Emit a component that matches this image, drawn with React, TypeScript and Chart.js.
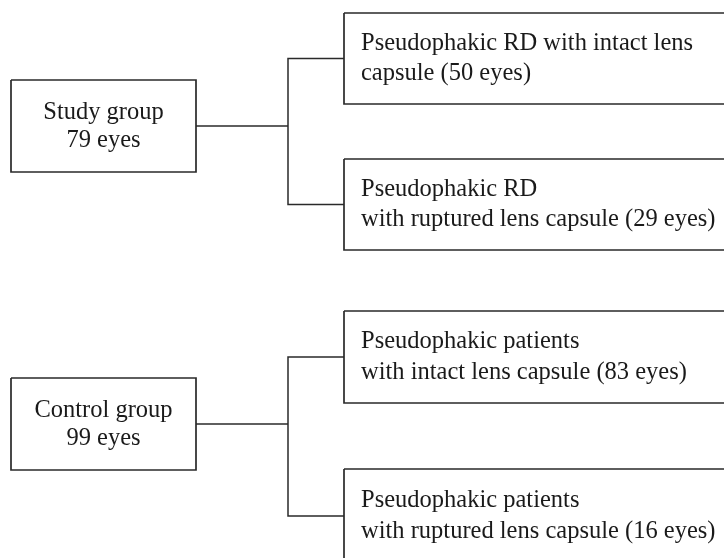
import React, { useEffect, useRef } from "react";
import { Chart, registerables } from "chart.js";

Chart.register(...registerables);

// Node labels (one entry per box, one string per line)
const nodeLabels: string[][] = [
  ["Study group", "79 eyes"],
  ["Pseudophakic RD with intact lens", "capsule (50 eyes)"],
  ["Pseudophakic RD", "with ruptured lens capsule (29 eyes)"],
  ["Control group", "99 eyes"],
  ["Pseudophakic patients", "with intact lens capsule (83 eyes)"],
  ["Pseudophakic patients", "with ruptured lens capsule (16 eyes)"],
];
// Box extents in diagram units (x: 0..724, y: 0..558 top-down)
const nodeLeft = [11, 344, 344, 11, 344, 344];
const nodeRight = [196, 745, 745, 196, 745, 745];
const nodeTop = [80, 13, 159, 378, 311, 469];
const nodeBottom = [172, 104, 250, 470, 403, 563];
// Tree: parent node index -> child node indices, with the trunk x position
const groupParent = [0, 3];
const groupChildren = [[1, 2], [4, 5]];
const groupTrunkX = [288, 288];

const X_MAX = 724;
const Y_MAX = 558;

export default function App() {
  const ref = useRef<HTMLCanvasElement | null>(null);

  useEffect(() => {
    document.body.style.margin = "0";
    const canvas = ref.current;
    if (!canvas) return;

    const lineColor = "#2a2a2a";
    const datasets: any[] = [];

    // Boxes
    nodeLabels.forEach((_, i) => {
      const l = nodeLeft[i], r = nodeRight[i], t = nodeTop[i], b = nodeBottom[i];
      datasets.push({
        data: [
          { x: l, y: t },
          { x: r, y: t },
          { x: r, y: b },
          { x: l, y: b },
          { x: l, y: t },
        ],
        showLine: true,
        borderColor: lineColor,
        borderWidth: 1.7,
        pointRadius: 0,
        fill: false,
        tension: 0,
        borderJoinStyle: "miter",
      });
    });

    // Connectors
    groupParent.forEach((p, g) => {
      const trunk = groupTrunkX[g];
      const pMid = (nodeTop[p] + nodeBottom[p]) / 2;
      datasets.push({
        data: [
          { x: nodeRight[p], y: pMid },
          { x: trunk, y: pMid },
        ],
        showLine: true,
        borderColor: lineColor,
        borderWidth: 1.5,
        pointRadius: 0,
        fill: false,
      });
      const [c1, c2] = groupChildren[g];
      const m1 = (nodeTop[c1] + nodeBottom[c1]) / 2;
      const m2 = (nodeTop[c2] + nodeBottom[c2]) / 2;
      datasets.push({
        data: [
          { x: nodeLeft[c1], y: m1 },
          { x: trunk, y: m1 },
          { x: trunk, y: m2 },
          { x: nodeLeft[c2], y: m2 },
        ],
        showLine: true,
        borderColor: lineColor,
        borderWidth: 1.5,
        pointRadius: 0,
        fill: false,
        borderJoinStyle: "miter",
      });
    });

    const labelPlugin = {
      id: "nodeLabels",
      afterDatasetsDraw(chart: any) {
        const ctx = chart.ctx;
        const xs = chart.scales.x;
        const ys = chart.scales.y;
        ctx.save();
        ctx.fillStyle = "#1a1a1a";
        ctx.font = '24.5px "Liberation Serif"';
        ctx.textBaseline = "middle";
        nodeLabels.forEach((lines, i) => {
          const isParent = groupParent.includes(i);
          const midY = (nodeTop[i] + nodeBottom[i]) / 2;
          const spacing = isParent ? 28 : 30.5;
          const shift = isParent ? 1 : 0;
          lines.forEach((txt, k) => {
            const yv = midY + shift + (k - (lines.length - 1) / 2) * spacing;
            let xv: number;
            if (isParent) {
              ctx.textAlign = "center";
              xv = (nodeLeft[i] + nodeRight[i]) / 2;
            } else {
              ctx.textAlign = "left";
              xv = nodeLeft[i] + 17;
            }
            ctx.fillText(txt, xs.getPixelForValue(xv), ys.getPixelForValue(yv));
          });
        });
        ctx.restore();
      },
    };

    const chart = new Chart(canvas, {
      type: "scatter",
      data: { datasets },
      options: {
        animation: false,
        responsive: false,
        devicePixelRatio: 1,
        layout: { padding: 0 },
        scales: {
          x: { type: "linear", min: 0, max: X_MAX, display: false },
          y: { type: "linear", min: 0, max: Y_MAX, reverse: true, display: false },
        },
        plugins: {
          legend: { display: false },
          tooltip: { enabled: false },
        },
        events: [],
      },
      plugins: [labelPlugin],
    });
    return () => chart.destroy();
  }, []);

  return (
    <div style={{ position: "absolute", left: 0, top: 0, width: X_MAX, height: Y_MAX, background: "#fff" }}>
      <canvas ref={ref} width={X_MAX} height={Y_MAX} style={{ display: "block" }} />
    </div>
  );
}
